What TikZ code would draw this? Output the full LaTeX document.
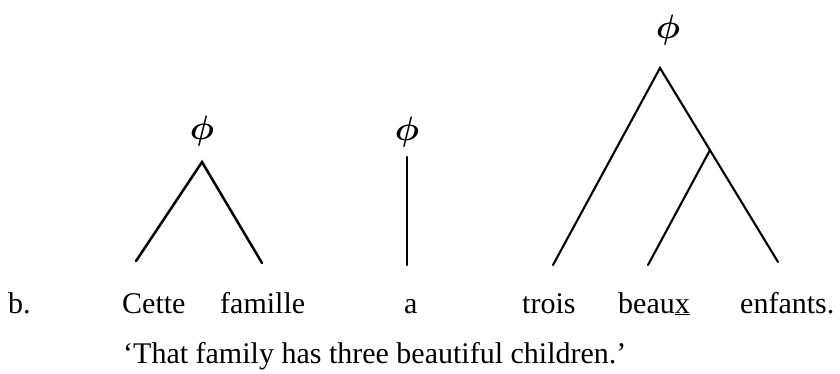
\documentclass[tikz,border=0pt]{standalone}
\usepackage{fontspec}
\setmainfont{Liberation Serif}
\newcommand{\nullphi}{\scalebox{3.4}{\boldmath$\phi$}}
\begin{document}
\begin{tikzpicture}[x=1pt,y=-1pt,
    every node/.style={font=\fontsize{30}{36}\selectfont,inner sep=0pt},
    word/.style={anchor=base west},
    branch/.style={line width=2.5pt,line cap=round},
    thinbranch/.style={line width=2.1pt,line cap=round}]
    \useasboundingbox (0,0) rectangle (840,374);
    % tree over "Cette famille"
    \coordinate (rootA) at (202,162);
    \coordinate (leafA1) at (136,261);
    \coordinate (leafA2) at (262,263);
    \node[font=\normalsize] (phiA) at (202,131) {\nullphi};
    \draw[branch] (leafA1) -- (rootA) -- (leafA2);
    % tree over "a"
    \coordinate (rootB) at (407,157);
    \coordinate (leafB) at (407,265);
    \node[font=\normalsize] (phiB) at (407,132) {\nullphi};
    \draw[branch] (rootB) -- (leafB);
    % tree over "trois beaux enfants"
    \coordinate (rootC) at (660,68);
    \coordinate (midC) at (710,150);
    \coordinate (leafC1) at (553,265);
    \coordinate (leafC2) at (648,265);
    \coordinate (leafC3) at (778,262);
    \node[font=\normalsize] (phiC) at (668,30) {\nullphi};
    \draw[thinbranch] (leafC1) -- (rootC) -- (leafC3);
    \draw[thinbranch] (leafC2) -- (midC);
    % example sentence and gloss
    \node[word] (exLabel) at (8,313) {b.};
    \node[word] (wCette) at (122,313) {Cette};
    \node[word] (wFamille) at (220,313) {famille};
    \node[word] (wA) at (404,313) {a};
    \node[word] (wTrois) at (522,313) {trois};
    \node[word] (wBeaux) at (618,313) {beau\underline{x}};
    \node[word] (wEnfants) at (740,313) {enfants.};
    \node[word] (gloss) at (123,363) {‘That family has three beautiful children.’};
\end{tikzpicture}
\end{document}
